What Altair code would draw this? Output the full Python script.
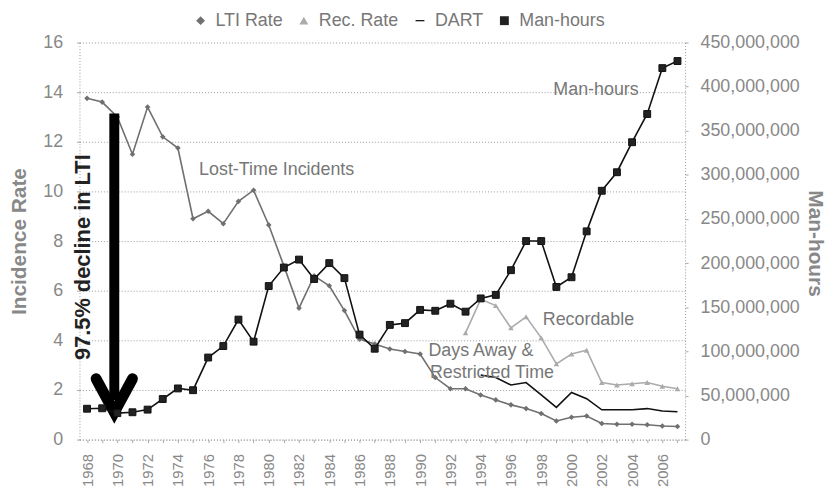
import altair as alt
import pandas as pd

years = [1968, 1969, 1970, 1971, 1972, 1973, 1974, 1975, 1976, 1977,
         1978, 1979, 1980, 1981, 1982, 1983, 1984, 1985, 1986, 1987,
         1988, 1989, 1990, 1991, 1992, 1993, 1994, 1995, 1996, 1997,
         1998, 1999, 2000, 2001, 2002, 2003, 2004, 2005, 2006, 2007]

lti_rate = [13.75, 13.6, 13.0, 11.5, 13.4, 12.2, 11.75, 8.9, 9.2, 8.7,
            9.6, 10.05, 8.65, 7.0, 5.3, 6.6, 6.2, 5.2, 4.05, 3.85,
            3.65, 3.55, 3.45, 2.5, 2.05, 2.05, 1.8, 1.6, 1.4, 1.25,
            1.05, 0.75, 0.9, 0.95, 0.65, 0.62, 0.62, 0.6, 0.55, 0.53]

rec_years = [1993, 1994, 1995, 1996, 1997, 1998, 1999, 2000, 2001, 2002,
             2003, 2004, 2005, 2006, 2007]
rec_rate = [4.3, 5.65, 5.4, 4.5, 4.95, 4.1, 3.05, 3.45, 3.6, 2.3,
            2.2, 2.25, 2.3, 2.15, 2.05]

dart_years = [1994, 1995, 1996, 1997, 1998, 1999, 2000, 2001, 2002, 2003,
              2004, 2005, 2006, 2007]
dart_rate = [2.6, 2.5, 2.2, 2.3, 1.8, 1.3, 1.9, 1.65, 1.2, 1.2,
             1.2, 1.25, 1.15, 1.12]

man_hours_millions = [35, 35.5, 30, 31, 34, 46, 58, 56, 93, 106,
                      136, 111, 174, 195, 204, 182, 200, 183, 119, 103,
                      130, 132, 147, 146, 154, 145, 160, 164, 192, 225,
                      225, 173, 184, 236, 282, 303, 337, 369, 421, 429]

series_names = ["LTI Rate", "Rec. Rate", "DART", "Man-hours"]
series_colors = ["#707070", "#ababab", "#111111", "#222222"]
series_shapes = ["diamond", "triangle-up", "M-1,-0.14H1V0.14H-1Z", "square"]

# annotations (data coordinates: year, incidence rate)
note_text = ["Lost-Time Incidents", "Man-hours", "Recordable", "Days Away &", "Restricted Time"]
note_year = [1975.4, 1998.8, 1998.1, 1990.55, 1990.65]
note_value = [10.85, 14.1, 4.83, 3.56, 2.67]

arrow_label = "97.5% decline in LTI"
arrow_label_year = [1967.75]
arrow_label_value = [7.35]
shaft_year = [1969.8]
shaft_top = [13.14]
shaft_bottom = [1.6]
head_year = [1968.6, 1969.8, 1971.0]
head_value = [2.45, 1.1, 2.45]

FONT = "Liberation Sans"

lti_df = pd.DataFrame({"year": years, "value": lti_rate, "series": "LTI Rate"})
rec_df = pd.DataFrame({"year": rec_years, "value": rec_rate, "series": "Rec. Rate"})
dart_df = pd.DataFrame({"year": dart_years, "value": dart_rate, "series": "DART"})
points_df = pd.concat([lti_df, rec_df], ignore_index=True)
mh_df = pd.DataFrame({"year": years,
                      "mh": [v * 1e6 for v in man_hours_millions],
                      "series": "Man-hours"})
notes_df = pd.DataFrame({"year": note_year, "value": note_value, "text": note_text})
arrow_text_df = pd.DataFrame({"year": arrow_label_year, "value": arrow_label_value,
                              "text": [arrow_label]})
shaft_df = pd.DataFrame({"year": shaft_year, "value": shaft_top, "value2": shaft_bottom})
head_df = pd.DataFrame({"year": head_year, "value": head_value, "o": [0, 1, 2]})

color_scale = alt.Scale(domain=series_names, range=series_colors)
shape_scale = alt.Scale(domain=series_names, range=series_shapes)

X = alt.X("year:Q",
          scale=alt.Scale(domain=[1967.5, 2007.5], nice=False, zero=False),
          axis=alt.Axis(values=years, title=None, grid=False,
                        labelExpr="datum.value % 2 === 0 ? toString(datum.value) : ''",
                        labelAngle=270, labelFontSize=15, labelColor="#888",
                        labelFont=FONT, labelPadding=11, tickSize=3,
                        tickColor="#aaa", domainColor="#999", domainDash=[1, 2]))

Y_left = alt.Y("value:Q",
               scale=alt.Scale(domain=[0, 16], nice=False),
               axis=alt.Axis(orient="left", values=[0, 2, 4, 6, 8, 10, 12, 14, 16],
                             title="Incidence Rate", titleFontSize=21,
                             titleFontWeight="bold", titleColor="#888",
                             titleFont=FONT, titleAngle=270, titleBaseline="middle",
                             titleX=-60, titleY=200,
                             labelFontSize=18, labelColor="#888", labelFont=FONT,
                             labelPadding=14, tickSize=3, tickColor="#aaa",
                             domainColor="#999", domainDash=[1, 2],
                             grid=True, gridColor="#999", gridDash=[1, 2]))

legend_props = dict(orient="none", direction="horizontal", legendX=113, legendY=-31,
                    labelFontSize=18, labelColor="#777", labelFont=FONT,
                    symbolSize=80, columnPadding=12, labelOffset=6)

lti_line = alt.Chart(lti_df).mark_line(strokeWidth=1.6, color=series_colors[0]).encode(
    x=X, y=Y_left)
rec_line = alt.Chart(rec_df).mark_line(strokeWidth=1.6, color=series_colors[1]).encode(
    x=X, y=Y_left)
dart_line = alt.Chart(dart_df).mark_line(strokeWidth=1.6, color=series_colors[2]).encode(
    x=X, y=Y_left)

points = alt.Chart(points_df).mark_point(filled=True, size=32, opacity=1).encode(
    x=X, y=Y_left,
    color=alt.Color("series:N", scale=color_scale, title=None,
                    legend=alt.Legend(**legend_props)),
    shape=alt.Shape("series:N", scale=shape_scale, title=None,
                    legend=alt.Legend(**legend_props)),
)

notes = alt.Chart(notes_df).mark_text(
    align="left", baseline="middle", fontSize=18, font=FONT, color="#777"
).encode(x=X, y=Y_left, text="text:N")

arrow_text = alt.Chart(arrow_text_df).mark_text(
    align="center", baseline="middle", fontSize=22, font=FONT,
    fontWeight="bold", color="#222", angle=270
).encode(x=X, y=Y_left, text="text:N")

shaft = alt.Chart(shaft_df).mark_rule(strokeWidth=10, color="#000").encode(
    x=X, y=Y_left, y2="value2:Q")

head = alt.Chart(head_df).mark_line(
    strokeWidth=11, color="#000", strokeCap="round", strokeJoin="miter"
).encode(x=X, y=Y_left, order="o:Q")

left = alt.layer(lti_line, rec_line, dart_line, points, notes, shaft, head, arrow_text)

Y_right = alt.Y("mh:Q",
                scale=alt.Scale(domain=[0, 450000000], nice=False),
                axis=alt.Axis(orient="right",
                              values=[0, 50000000, 100000000, 150000000, 200000000,
                                      250000000, 300000000, 350000000, 400000000,
                                      450000000],
                              format=",d", title="Man-hours", titleFontSize=21,
                              titleFontWeight="bold", titleColor="#888",
                              titleFont=FONT, titleAngle=90, titleBaseline="middle",
                              titleX=130, titleY=202,
                              labelFontSize=18, labelColor="#888", labelFont=FONT,
                              labelPadding=12, tickSize=3, tickColor="#aaa",
                              domainColor="#999", domainDash=[1, 2], grid=False))

mh_line = alt.Chart(mh_df).mark_line(strokeWidth=1.6, color="#111").encode(
    x=X, y=Y_right)
mh_points = alt.Chart(mh_df).mark_point(
    filled=True, size=48, opacity=1, stroke="#111", strokeWidth=1
).encode(
    x=X, y=Y_right,
    color=alt.Color("series:N", scale=color_scale, title=None,
                    legend=alt.Legend(**legend_props)),
    shape=alt.Shape("series:N", scale=shape_scale, title=None,
                    legend=alt.Legend(**legend_props)),
)
right = alt.layer(mh_line, mh_points)

chart = alt.layer(left, right).resolve_scale(y="independent").properties(
    width=610, height=400,
    autosize=alt.AutoSizeParams(type="none"),
    padding={"left": 72, "top": 33, "right": 146, "bottom": 50},
).configure_view(stroke=None)

chart.save("out.html", embed_options={"renderer": "svg", "actions": False})
